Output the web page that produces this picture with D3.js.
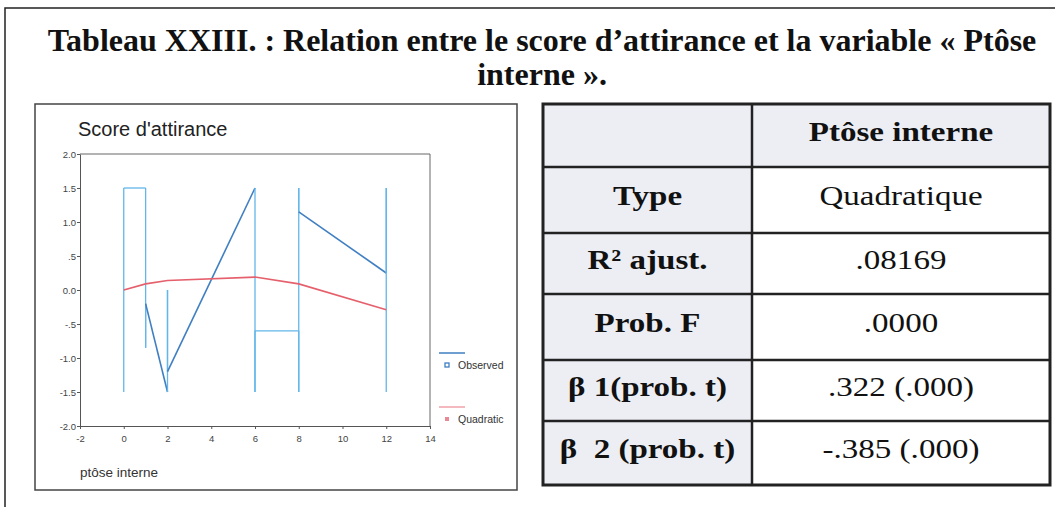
<!DOCTYPE html>
<html>
<head>
<meta charset="utf-8">
<script src="https://cdn.jsdelivr.net/npm/d3@7"></script>
<style>
  body { margin: 0; background: #fff; }
  svg text { white-space: pre; }
</style>
</head>
<body>
<div id="graph"></div>
<script>
var titleLines = ['Tableau XXIII. : Relation entre le score d\u2019attirance et la variable \u00ab Pt\u00f4se', 'interne \u00bb.']

// observed series, in the order the line is drawn
var obsX = [0, 0, 1, 1, 1, 2, 2, 2, 6, 6, 6, 8, 8, 8, 8, 12, 12, 12]
var obsY = [-1.5, 1.5, 1.5, -0.85, -0.2, -1.5, 0.0, -1.2, 1.5, -1.5, -0.6, -0.6, -1.5, 1.5, 1.15, 0.25, 1.5, -1.5]

// quadratic fit at the observed x values
var quadX = [0, 1, 2, 6, 8, 12]
var quadY = [0.0, 0.09, 0.14, 0.19, 0.09, -0.29]

var xTicks = [-2, 0, 2, 4, 6, 8, 10, 12, 14]
var yTicks = [2, 1.5, 1, 0.5, 0, -0.5, -1, -1.5, -2]
var yTickLabels = ['2.0', '1.5', '1.0', '.5', '0.0', '-.5', '-1.0', '-1.5', '-2.0']

var legendNames = ['Observed', 'Quadratic']

var tableHeader = 'Pt\u00f4se interne'
var rowLabels = ['Type', 'R\u00b2 ajust.', 'Prob. F', '\u03b2 1(prob. t)', '\u03b2  2 (prob. t)']
var rowValues = ['Quadratique', '.08169', '.0000', '.322 (.000)', '-.385 (.000)']

var obsColor = '#3f7fc2', obsLight = '#62b6ea', quadColor = '#e5606c'

var svg = d3.select('#graph').append('svg').attr('width', 1055).attr('height', 507)

// page frame
svg.append('path').attr('d', 'M5,507V8H1055').attr('fill', 'none').attr('stroke', '#222').attr('stroke-width', 1.5)

svg.selectAll('text.title').data(titleLines).enter().append('text')
  .attr('class', 'title')
  .attr('x', 542).attr('y', (d, i) => 51 + i * 34)
  .attr('text-anchor', 'middle')
  .style('font', 'bold 32px "Liberation Serif", "Times New Roman", serif')
  .attr('fill', '#111')
  .text(d => d)

// chart panel
svg.append('rect').attr('x', 35).attr('y', 104).attr('width', 482).attr('height', 386)
  .attr('fill', '#fff').attr('stroke', '#444').attr('stroke-width', 1.5)

var x = d3.scaleLinear().domain([-2, 14]).range([80, 430])
var y = d3.scaleLinear().domain([-2, 2]).range([426, 154])

var g = svg.append('g')

g.append('path')
  .attr('d', `M${x(-2)},${y(2)}H${x(14)}V${y(-2)}`)
  .attr('fill', 'none').attr('stroke', '#666').attr('stroke-width', 1)

var yAxis = g.append('g').attr('transform', `translate(${x(-2)},0)`)
  .call(d3.axisLeft(y).tickValues(yTicks).tickFormat((d, i) => yTickLabels[i]).tickSize(3).tickSizeOuter(0))
var xAxis = g.append('g').attr('transform', `translate(0,${y(-2)})`)
  .call(d3.axisBottom(x).tickValues(xTicks).tickFormat(d => '' + d).tickSize(3).tickSizeOuter(0))

;[xAxis, yAxis].forEach(function(a){
  a.selectAll('path, line').attr('stroke', '#555')
  a.selectAll('text').attr('fill', '#444').style('font', '9.5px "Liberation Sans", Arial, sans-serif')
})
yAxis.selectAll('text').attr('dx', 2)
xAxis.selectAll('text').attr('dy', '1em')

svg.append('text').attr('x', 78).attr('y', 136)
  .style('font', '20px "Liberation Sans", Arial, sans-serif').attr('fill', '#222')
  .text("Score d'attirance")
svg.append('text').attr('x', 80).attr('y', 477)
  .style('font', '13.5px "Liberation Sans", Arial, sans-serif').attr('fill', '#333')
  .text('pt\u00f4se interne')

// observed: segment by segment, vertical runs look lighter in the original
var obs = obsX.map((d, i) => ({x: d, y: obsY[i]}))
var segs = d3.pairs(obs)
g.selectAll('line.obs').data(segs).enter().append('line')
  .attr('class', 'obs')
  .attr('x1', d => x(d[0].x)).attr('y1', d => y(d[0].y))
  .attr('x2', d => x(d[1].x)).attr('y2', d => y(d[1].y))
  .attr('stroke', d => d[0].x == d[1].x || d[0].y == d[1].y ? obsLight : obsColor)
  .attr('stroke-width', d => d[0].x == d[1].x || d[0].y == d[1].y ? 1.3 : 1.6)

var quad = quadX.map((d, i) => ({x: d, y: quadY[i]}))
g.append('path')
  .datum(quad)
  .attr('d', d3.line().x(d => x(d.x)).y(d => y(d.y)))
  .attr('fill', 'none').attr('stroke', quadColor).attr('stroke-width', 1.6)

// legend
var leg = svg.selectAll('g.leg').data(legendNames).enter().append('g')
  .attr('class', 'leg')
  .attr('transform', (d, i) => `translate(439,${353 + i * 54})`)
leg.append('line').attr('x1', 0).attr('x2', 26)
  .attr('stroke', (d, i) => i ? '#f0a0aa' : obsColor).attr('stroke-width', 1.5)
leg.append('rect').attr('x', 6).attr('y', 10).attr('width', 4).attr('height', 4)
  .attr('fill', (d, i) => i ? '#e88a96' : '#fff')
  .attr('stroke', (d, i) => i ? 'none' : obsColor).attr('stroke-width', 1.3)
leg.append('text').attr('x', 19).attr('y', 16)
  .style('font', '10.5px "Liberation Sans", Arial, sans-serif').attr('fill', '#333')
  .text(d => d)

// table
var rowY = [104, 167, 233, 294, 360, 421, 485]
var colX = [543, 752, 1050]
var tb = svg.append('g')
var serif = '"Liberation Serif", "Times New Roman", serif'
var stretch = 1.18

tb.append('rect').attr('x', colX[0]).attr('y', rowY[0]).attr('width', colX[1] - colX[0]).attr('height', rowY[6] - rowY[0]).attr('fill', '#eceef4')
tb.append('rect').attr('x', colX[1]).attr('y', rowY[0]).attr('width', colX[2] - colX[1]).attr('height', rowY[1] - rowY[0]).attr('fill', '#eceef4')

rowY.slice(1, 6).forEach(function(ry){
  tb.append('line').attr('x1', colX[0]).attr('x2', colX[2]).attr('y1', ry).attr('y2', ry)
    .attr('stroke', '#222').attr('stroke-width', 2.5)
})
tb.append('line').attr('x1', colX[1]).attr('x2', colX[1]).attr('y1', rowY[0]).attr('y2', rowY[6])
  .attr('stroke', '#222').attr('stroke-width', 2.5)
tb.append('rect').attr('x', colX[0]).attr('y', rowY[0]).attr('width', colX[2] - colX[0]).attr('height', rowY[6] - rowY[0])
  .attr('fill', 'none').attr('stroke', '#222').attr('stroke-width', 3)

function cellText(sel, cx, cy, weight){
  sel.attr('transform', (d, i) => `translate(${cx},${cy(i)}) scale(${stretch},1)`)
    .attr('text-anchor', 'middle')
    .style('font', weight + ' 28px ' + serif).attr('fill', '#111')
    .text(d => d)
}
var rowMid = i => (rowY[i + 1] + rowY[i + 2]) / 2 + 5

tb.append('text').datum(tableHeader)
  .call(cellText, (colX[1] + colX[2]) / 2, i => (rowY[0] + rowY[1]) / 2 + 5, 'bold')

tb.selectAll('text.lab').data(rowLabels).enter().append('text')
  .attr('class', 'lab')
  .call(cellText, (colX[0] + colX[1]) / 2, rowMid, 'bold')

tb.selectAll('text.val').data(rowValues).enter().append('text')
  .attr('class', 'val')
  .call(cellText, (colX[1] + colX[2]) / 2, rowMid, 'normal')
</script>
</body>
</html>
